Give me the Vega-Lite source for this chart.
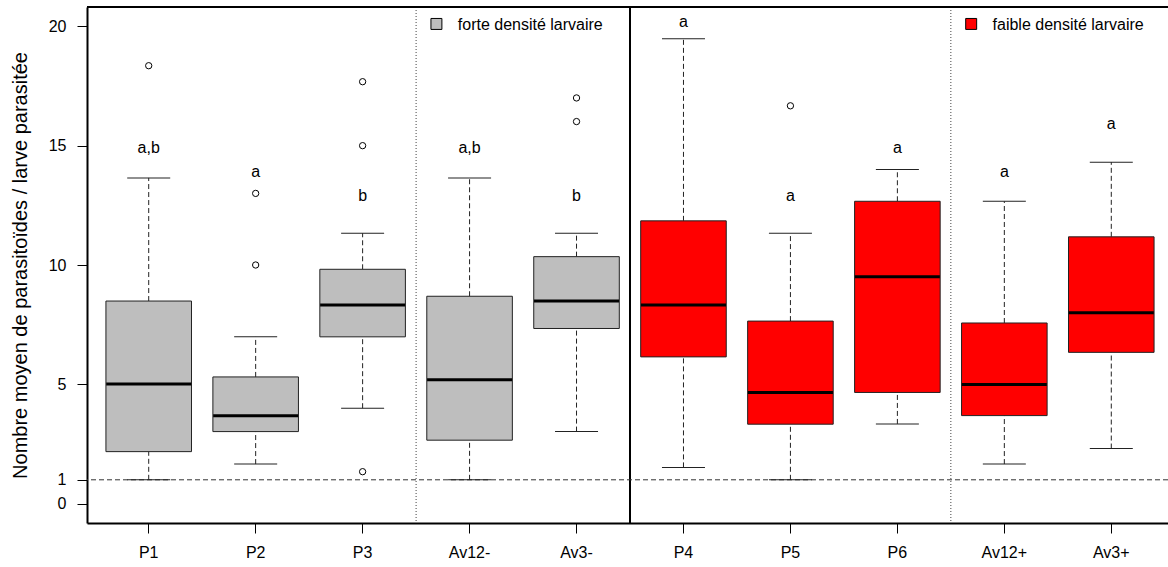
{
  "$schema": "https://vega.github.io/schema/vega-lite/v6.json",
  "autosize": {"type": "none"},
  "padding": {"left": 87, "top": 7, "right": 0, "bottom": 44},
  "width": 1081,
  "height": 516,
  "config": {
    "view": {"stroke": null},
    "font": "Liberation Sans",
    "axis": {"grid": false, "domainColor": "#000", "domainWidth": 2, "tickColor": "#000", "tickWidth": 1, "labelColor": "#000", "labelFont": "Liberation Sans", "titleFont": "Liberation Sans", "titleColor": "#000", "labelFontSize": 16}
  },
  "datasets": {
    "boxes": [
      {"group": "P1", "density": "forte", "lower": 1.0, "q1": 2.18, "median": 5.01, "q3": 8.49, "upper": 13.65, "letter": "a,b", "letter_y": 14.9},
      {"group": "P2", "density": "forte", "lower": 1.66, "q1": 3.02, "median": 3.68, "q3": 5.31, "upper": 6.99, "letter": "a", "letter_y": 13.9},
      {"group": "P3", "density": "forte", "lower": 4.0, "q1": 6.99, "median": 8.32, "q3": 9.82, "upper": 11.33, "letter": "b", "letter_y": 12.9},
      {"group": "Av12-", "density": "forte", "lower": 1.0, "q1": 2.66, "median": 5.19, "q3": 8.69, "upper": 13.65, "letter": "a,b", "letter_y": 14.9},
      {"group": "Av3-", "density": "forte", "lower": 3.02, "q1": 7.34, "median": 8.49, "q3": 10.35, "upper": 11.33, "letter": "b", "letter_y": 12.9},
      {"group": "P4", "density": "faible", "lower": 1.52, "q1": 6.15, "median": 8.32, "q3": 11.85, "upper": 19.48, "letter": "a", "letter_y": 20.2},
      {"group": "P5", "density": "faible", "lower": 1.0, "q1": 3.33, "median": 4.66, "q3": 7.65, "upper": 11.33, "letter": "a", "letter_y": 12.9},
      {"group": "P6", "density": "faible", "lower": 3.34, "q1": 4.66, "median": 9.51, "q3": 12.67, "upper": 14.0, "letter": "a", "letter_y": 14.9},
      {"group": "Av12+", "density": "faible", "lower": 1.66, "q1": 3.69, "median": 4.99, "q3": 7.57, "upper": 12.67, "letter": "a", "letter_y": 13.9},
      {"group": "Av3+", "density": "faible", "lower": 2.31, "q1": 6.34, "median": 8.0, "q3": 11.18, "upper": 14.31, "letter": "a", "letter_y": 15.9}
    ],
    "outliers": [
      {"group": "P1", "value": 18.35},
      {"group": "P2", "value": 10.0},
      {"group": "P2", "value": 13.0},
      {"group": "P3", "value": 1.34},
      {"group": "P3", "value": 15.0},
      {"group": "P3", "value": 17.68},
      {"group": "Av3-", "value": 16.01},
      {"group": "Av3-", "value": 17.0},
      {"group": "P5", "value": 16.67}
    ],
    "legend": [
      {"group": "Av12-", "density": "forte", "label": "forte densité larvaire"},
      {"group": "Av12+", "density": "faible", "label": "faible densité larvaire"}
    ],
    "dotted": [{"group": "Av12-"}, {"group": "Av12+"}],
    "solid": [{"group": "P4"}]
  },
  "encoding": {
    "x": {
      "field": "group", "type": "nominal",
      "scale": {"type": "band", "domain": ["P1", "P2", "P3", "Av12-", "Av3-", "P4", "P5", "P6", "Av12+", "Av3+"], "paddingInner": 0, "paddingOuter": 0.077, "range": [0, 1086]},
      "axis": {"title": null, "labelAngle": 0, "tickSize": 10, "labelPadding": 11, "labelFontSize": 16, "domainWidth": 2}
    }
  },
  "layer": [
    {
      "data": {"name": "dotted"},
      "mark": {"type": "rule", "strokeDash": [1, 2], "color": "#444", "strokeWidth": 1},
      "encoding": {"x": {"field": "group", "type": "nominal", "bandPosition": 0}}
    },
    {
      "data": {"name": "solid"},
      "mark": {"type": "rule", "color": "#000", "strokeWidth": 2},
      "encoding": {"x": {"field": "group", "type": "nominal", "bandPosition": 0}}
    },
    {
      "data": {"values": [{"ref": 1}]},
      "mark": {"type": "rule", "strokeDash": [5, 3], "color": "#333", "strokeWidth": 1},
      "encoding": {"x": null, "y": {"field": "ref", "type": "quantitative", "title": "Nombre moyen de parasitoïdes / larve parasitée", "scale": {"domain": [-0.81, 20.81], "nice": false, "zero": false}, "axis": {"values": [0, 1, 5, 10, 15, 20], "tickSize": 10, "labelPadding": 11, "labelFontSize": 16, "titleFontSize": 20, "titleFontWeight": "normal", "titlePadding": 18, "labelFlush": false, "labelOverlap": false, "domainWidth": 2}}}
    },
    {
      "data": {"values": [{"top": 20.81}]},
      "mark": {"type": "rule", "color": "#000", "strokeWidth": 2},
      "encoding": {"x": null, "y": {"field": "top", "type": "quantitative", "title": "Nombre moyen de parasitoïdes / larve parasitée", "scale": {"domain": [-0.81, 20.81], "nice": false, "zero": false}}}
    },
    {
      "data": {"name": "boxes"},
      "layer": [
        {
          "mark": {"type": "rule", "strokeDash": [5, 3], "color": "#222", "strokeWidth": 1},
          "encoding": {"y": {"field": "lower", "type": "quantitative", "title": "Nombre moyen de parasitoïdes / larve parasitée", "scale": {"domain": [-0.81, 20.81], "nice": false, "zero": false}}, "y2": {"field": "q1"}}
        },
        {
          "mark": {"type": "rule", "strokeDash": [5, 3], "color": "#222", "strokeWidth": 1},
          "encoding": {"y": {"field": "q3", "type": "quantitative", "title": "Nombre moyen de parasitoïdes / larve parasitée", "scale": {"domain": [-0.81, 20.81], "nice": false, "zero": false}}, "y2": {"field": "upper"}}
        },
        {
          "mark": {"type": "tick", "size": 43, "thickness": 1, "color": "#222", "opacity": 1},
          "encoding": {"y": {"field": "lower", "type": "quantitative", "title": "Nombre moyen de parasitoïdes / larve parasitée", "scale": {"domain": [-0.81, 20.81], "nice": false, "zero": false}}}
        },
        {
          "mark": {"type": "tick", "size": 43, "thickness": 1, "color": "#222", "opacity": 1},
          "encoding": {"y": {"field": "upper", "type": "quantitative", "title": "Nombre moyen de parasitoïdes / larve parasitée", "scale": {"domain": [-0.81, 20.81], "nice": false, "zero": false}}}
        },
        {
          "mark": {"type": "bar", "width": {"band": 0.8}, "stroke": "#222", "strokeWidth": 1},
          "encoding": {
            "y": {"field": "q1", "type": "quantitative", "title": "Nombre moyen de parasitoïdes / larve parasitée", "scale": {"domain": [-0.81, 20.81], "nice": false, "zero": false}},
            "y2": {"field": "q3"},
            "fill": {"field": "density", "type": "nominal", "scale": {"domain": ["forte", "faible"], "range": ["#BEBEBE", "#FF0000"]}, "legend": null}
          }
        },
        {
          "mark": {"type": "tick", "size": 85, "thickness": 3, "color": "#000", "opacity": 1},
          "encoding": {"y": {"field": "median", "type": "quantitative", "title": "Nombre moyen de parasitoïdes / larve parasitée", "scale": {"domain": [-0.81, 20.81], "nice": false, "zero": false}}}
        },
        {
          "mark": {"type": "text", "fontSize": 16, "color": "#000", "align": "center", "baseline": "middle"},
          "encoding": {"y": {"field": "letter_y", "type": "quantitative", "title": "Nombre moyen de parasitoïdes / larve parasitée", "scale": {"domain": [-0.81, 20.81], "nice": false, "zero": false}}, "text": {"field": "letter"}}
        }
      ]
    },
    {
      "data": {"name": "outliers"},
      "mark": {"type": "point", "shape": "circle", "filled": false, "color": "#000", "size": 40, "strokeWidth": 1, "opacity": 1},
      "encoding": {"y": {"field": "value", "type": "quantitative", "title": "Nombre moyen de parasitoïdes / larve parasitée", "scale": {"domain": [-0.81, 20.81], "nice": false, "zero": false}}}
    },
    {
      "data": {"name": "legend"},
      "mark": {"type": "point", "shape": "square", "filled": true, "size": 120, "stroke": "#000", "strokeWidth": 1, "opacity": 1},
      "encoding": {
        "x": {"field": "group", "type": "nominal", "bandPosition": 0.19},
        "y": {"datum": 20.1, "type": "quantitative", "title": "Nombre moyen de parasitoïdes / larve parasitée", "scale": {"domain": [-0.81, 20.81], "nice": false, "zero": false}},
        "fill": {"field": "density", "type": "nominal", "legend": null}
      }
    },
    {
      "data": {"name": "legend"},
      "mark": {"type": "text", "fontSize": 16, "color": "#000", "align": "left", "baseline": "middle"},
      "encoding": {
        "x": {"field": "group", "type": "nominal", "bandPosition": 0.39},
        "y": {"datum": 20.05, "type": "quantitative", "title": "Nombre moyen de parasitoïdes / larve parasitée", "scale": {"domain": [-0.81, 20.81], "nice": false, "zero": false}},
        "text": {"field": "label"}
      }
    }
  ],
  "resolve": {"scale": {"y": "shared"}}
}
